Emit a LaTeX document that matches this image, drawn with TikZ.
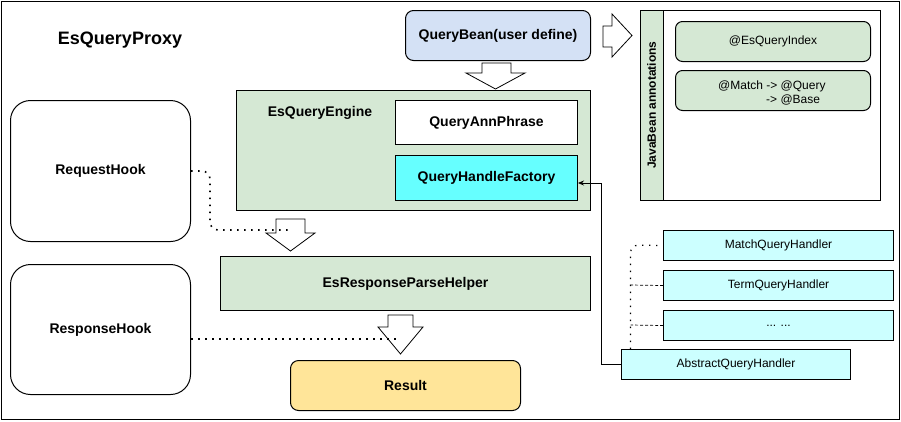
\documentclass[tikz,border=0pt]{standalone}
\usepackage{fontspec}
\usetikzlibrary{arrows.meta}
\setmainfont{Liberation Sans}
\definecolor{beanblue}{HTML}{D4E1F5}
\definecolor{lgreen}{HTML}{D5E8D4}
\definecolor{cyanbox}{HTML}{66FFFF}
\definecolor{lcyan}{HTML}{CCFFFF}
\definecolor{ryellow}{HTML}{FFE599}
\begin{document}
\begin{tikzpicture}[x=1pt,y=-1pt,
  box/.style={draw=black,line width=1pt,inner sep=0pt,anchor=north west},
  btxt/.style={font=\fontsize{14}{16}\selectfont\bfseries},
  ntxt/.style={font=\fontsize{12}{14}\selectfont},
  blockarrow/.style={draw=black,line width=0.8pt,fill=white},
  dotline/.style={line width=1.6pt,dash pattern=on 1.6pt off 5.4pt,line cap=butt},
  dashline/.style={line width=0.7pt,dash pattern=on 3pt off 2pt}
]
\useasboundingbox (0,0) rectangle (901,421);
% outer frame
\node[box,minimum width=898pt,minimum height=418pt] (frame) at (1,1) {};
\node[font=\fontsize{18}{20}\selectfont\bfseries] (title) at (120,40) {EsQueryProxy};

% QueryBean
\node[box,fill=beanblue,rounded corners=8pt,minimum width=185pt,minimum height=50pt,btxt] (bean) at (405,10) {QueryBean(user define)};

% JavaBean annotations container
\node[box,fill=white,minimum width=240pt,minimum height=190pt] (jb) at (640,10) {};
\node[box,fill=lgreen,minimum width=23pt,minimum height=190pt] (jbhead) at (640,10) {};
\node[rotate=90,font=\fontsize{12}{14}\selectfont\bfseries] (jblabel) at (651.5,105) {JavaBean annotations};
\node[box,fill=lgreen,rounded corners=7pt,minimum width=195pt,minimum height=40pt,ntxt] (esidx) at (675,21) {@EsQueryIndex};
\node[box,fill=lgreen,rounded corners=7pt,minimum width=195pt,minimum height=40pt] (match) at (675,70) {};
\node[ntxt,align=left,anchor=north west,inner sep=0pt] (matchtxt) at (718,81) {@Match -> @Query\\\hspace*{48pt}-> @Base};

% EsQueryEngine
\node[box,fill=lgreen,minimum width=354pt,minimum height=120pt] (engine) at (236,90) {};
\node[btxt] (enginelbl) at (320,113) {EsQueryEngine};
\node[box,fill=white,minimum width=182pt,minimum height=44pt,btxt] (phrase) at (395,100) {QueryAnnPhrase};
\node[box,fill=cyanbox,minimum width=182pt,minimum height=45pt,btxt] (factory) at (395,155) {QueryHandleFactory};

% Hooks
\node[box,fill=white,rounded corners=20pt,minimum width=180pt,minimum height=141pt,btxt] (req) at (10,100) {RequestHook};
\node[box,fill=white,rounded corners=20pt,minimum width=180pt,minimum height=130pt,btxt] (resp) at (10,264) {ResponseHook};

% Response parse helper
\node[box,fill=lgreen,minimum width=370pt,minimum height=54pt,btxt] (parse) at (220,256) {EsResponseParseHelper};

% Result
\node[box,fill=ryellow,rounded corners=8pt,minimum width=230pt,minimum height=50pt,btxt] (result) at (290,360) {Result};

% Handlers
\node[box,fill=lcyan,minimum width=230pt,minimum height=30pt,ntxt] (mh) at (663,230) {MatchQueryHandler};
\node[box,fill=lcyan,minimum width=230pt,minimum height=30pt,ntxt] (th) at (663,270) {TermQueryHandler};
\node[box,fill=lcyan,minimum width=230pt,minimum height=30pt,ntxt] (oh) at (663,310) {... ...};
\node[box,fill=lcyan,minimum width=229pt,minimum height=30pt,ntxt] (ah) at (621,349) {AbstractQueryHandler};

% block arrows
\draw[blockarrow] (603,26) -- (612,26) -- (612,14) -- (632,35.5) -- (612,57) -- (612,47) -- (603,47) -- cycle;
\draw[blockarrow] (482,63) -- (511,63) -- (511,73) -- (525,73) -- (495.5,89) -- (466,73) -- (482,73) -- cycle;
\draw[blockarrow] (276,219) -- (305,219) -- (305,233) -- (315,233) -- (290.5,251) -- (266,233) -- (276,233) -- cycle;
\draw[blockarrow] (388,315) -- (413,315) -- (413,327) -- (423,327) -- (400.5,354) -- (378,327) -- (388,327) -- cycle;

% dotted hook connectors
\coordinate (reqend) at (292,230);
\coordinate (respend) at (398,339);
\draw[dotline,rounded corners=8pt] (req.east) -- (210,171) -- (210,230) -- (reqend);
\draw[dotline] (resp.east |- respend) -- (respend);

% handler connectors
\draw[dotline,line width=1.3pt,dash pattern=on 1.3pt off 5.7pt,rounded corners=8pt] (ah.north -| 630.5,0) -- (630.5,245) -- (mh.west);
\draw[dashline] (th.west) -- (630.5,285);
\draw[dashline] (oh.west) -- (630.5,325);

% abstract handler to factory
\draw[line width=0.8pt,-{Stealth[length=6pt,width=5pt]}] (ah.west) -| (601,183) -- (factory.east |- 0,183);
\end{tikzpicture}
\end{document}
